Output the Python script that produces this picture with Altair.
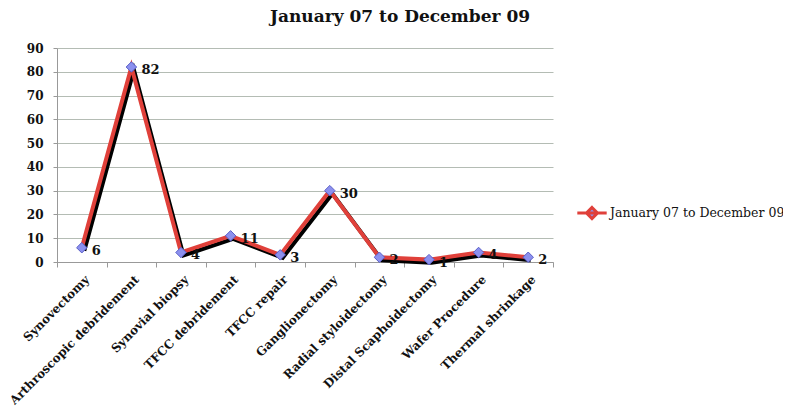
import altair as alt
import pandas as pd

categories = [
    "Synovectomy", "Arthroscopic debridement", "Synovial biopsy", "TFCC debridement",
    "TFCC repair", "Ganglionectomy", "Radial styloidectomy", "Distal Scaphoidectomy",
    "Wafer Procedure", "Thermal shrinkage",
]
values = [6, 82, 4, 11, 3, 30, 2, 1, 4, 2]
series_name = "January 07 to December 09"

df = pd.DataFrame({"procedure": categories, "count": values, "series": series_name})

FONT = "DejaVu Serif"
W = 496

x_enc = alt.X(
    "procedure:N", sort=categories, title=None,
    scale=alt.Scale(type="band", paddingInner=0, paddingOuter=0),
    axis=alt.Axis(labelAngle=-45, labelAlign="right", labelBaseline="middle",
                  tickBand="extent", grid=False, labelFontSize=12, labelFontWeight="bold",
                  labelFont=FONT, labelColor="#111", domainColor="#999", tickColor="#999",
                  tickSize=5, labelPadding=10, labelOffset=5, labelLimit=300),
)
y_enc = alt.Y(
    "count:Q", title=None, scale=alt.Scale(domain=[0, 90], nice=False),
    axis=alt.Axis(values=list(range(0, 91, 10)), labelFontSize=12, labelFontWeight="bold",
                  labelFont=FONT, labelColor="#111", gridColor="#b4bcb4", domainColor="#999",
                  tickColor="#999", tickSize=4, labelPadding=10),
)

base = alt.Chart(df).encode(x=x_enc, y=y_enc)

shadow = base.mark_line(color="black", strokeWidth=4).encode(
    xOffset=alt.value(W / 20 + 2.5), yOffset=alt.value(3)
)
line = base.mark_line(strokeWidth=4).encode(
    color=alt.Color(
        "series:N", title=None,
        scale=alt.Scale(range=["#e0403a"]),
        legend=alt.Legend(
            orient="none", legendX=521, legendY=151,
            symbolType="M-1.2,0H1.2M0,-0.45L0.45,0L0,0.45L-0.45,0Z",
            symbolSize=600, symbolStrokeWidth=3, symbolFillColor="#8f95ee",
            labelFont=FONT, labelFontSize=12.5, labelColor="#111", labelLimit=300,
        ),
    )
)
pts = base.mark_point(shape="diamond", filled=True, size=110, color="#8c90ee",
                      stroke="#5a5fc8", strokeWidth=1, opacity=1)
labels = base.mark_text(align="left", dx=10, dy=3, font=FONT, fontSize=13,
                        fontWeight="bold", color="#111").encode(text="count:Q")

chart = (
    alt.layer(shadow, line, pts, labels)
    .properties(
        width=W, height=214,
        title=alt.TitleParams(series_name, font=FONT, fontSize=17, fontWeight="bold",
                              color="#111", anchor="middle", frame="group", offset=16, dx=95),
        autosize=alt.AutoSizeParams(type="none"),
        padding={"left": 49, "top": 40, "right": 230, "bottom": 145},
    )
    .configure_view(stroke=None)
)

chart.save("out.html", embed_options={"renderer": "svg", "actions": False})
